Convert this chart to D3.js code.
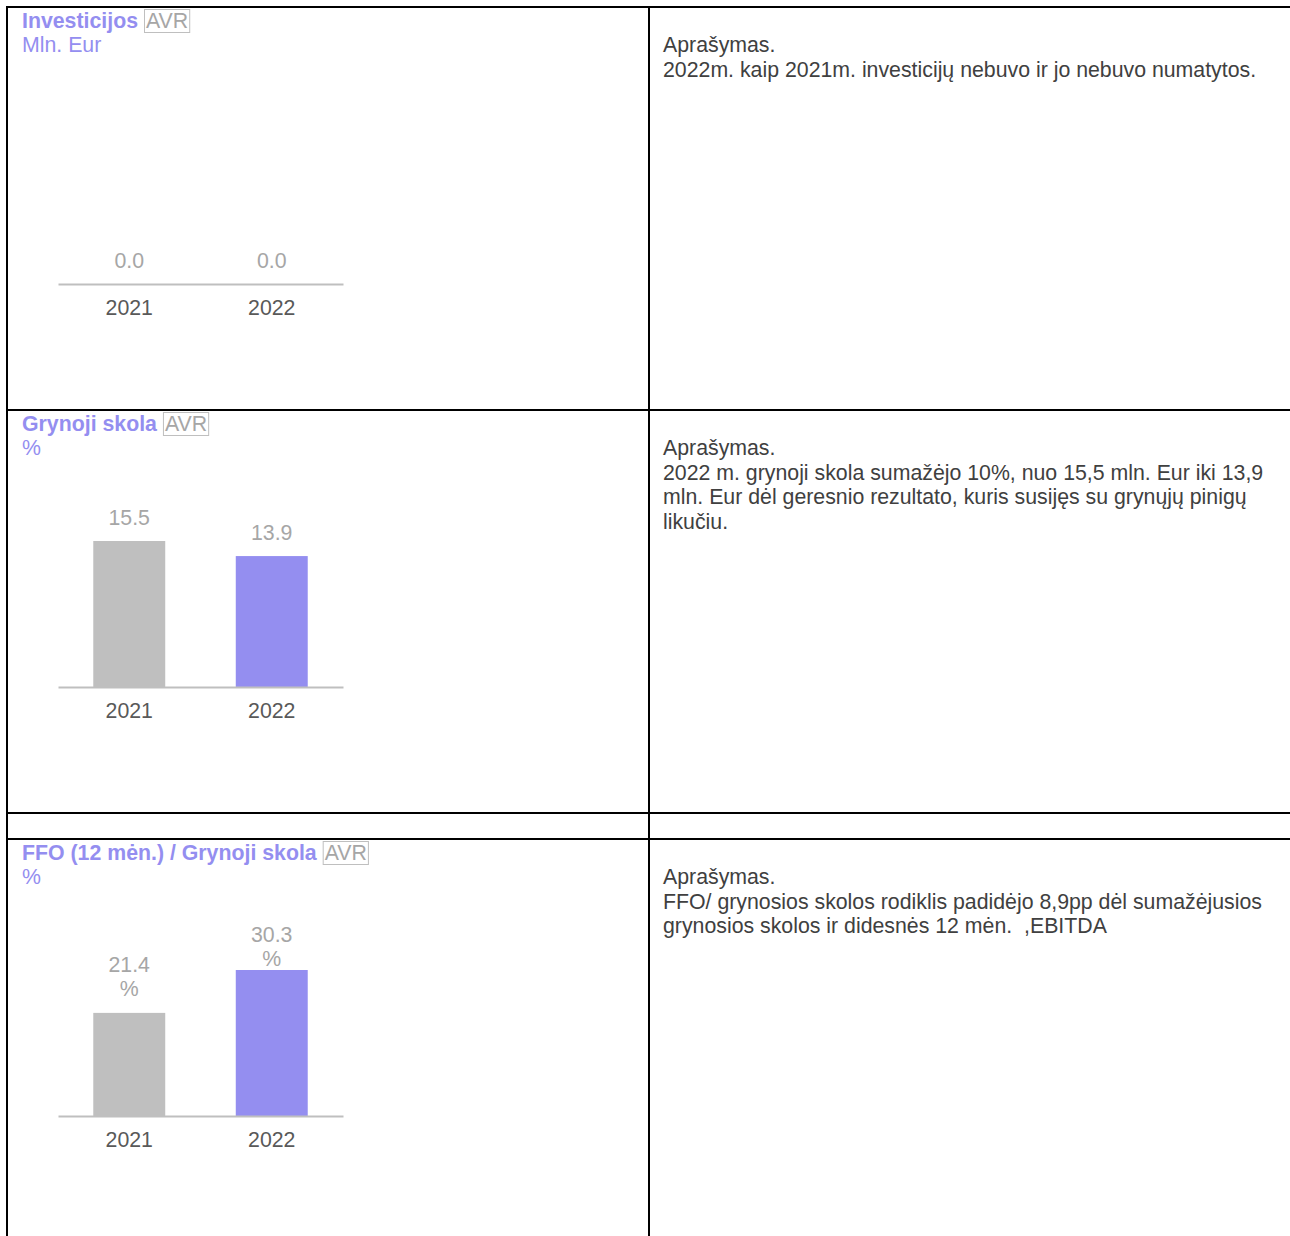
<!DOCTYPE html>
<meta charset="utf-8">
<style>
    html, body { margin: 0; padding: 0; background: #fff; }
    svg text { font-family: "Liberation Sans", Arial, sans-serif; white-space: pre; }
</style>
<script src="https://d3js.org/d3.v7.min.js"></script>

<div id="viz"></div>

<script>
    // data
    const years = ["2021", "2022"];
    const titles = ["Investicijos", "Grynoji skola", "FFO (12 mėn.) / Grynoji skola"];
    const units = ["Mln. Eur", "%", "%"];
    const investValues = [0.0, 0.0];
    const debtValues = [15.5, 13.9];
    const ffoValues = [21.4, 30.3];
    const valueSuffix = ["", "", "%"];
    const descriptions = [
        ["Aprašymas.",
         "2022m. kaip 2021m. investicijų nebuvo ir jo nebuvo numatytos."],
        ["Aprašymas.",
         "2022 m. grynoji skola sumažėjo 10%, nuo 15,5 mln. Eur iki 13,9",
         "mln. Eur dėl geresnio rezultato, kuris susijęs su grynųjų pinigų",
         "likučiu."],
        ["Aprašymas.",
         "FFO/ grynosios skolos rodiklis padidėjo 8,9pp dėl sumažėjusios",
         "grynosios skolos ir didesnės 12 mėn.  ,EBITDA"]
    ];
    const series = [investValues, debtValues, ffoValues];

    const W = 1290, H = 1236;
    const purple = "#948ef0", grey = "#bfbfbf";
    const fs = "21.3px";
    const cellTops = [7, 410, 839];
    const colX = 649;

    const svg = d3.select("#viz").append("svg")
        .attr("width", W).attr("height", H);

    // table lines
    const grid = svg.append("g").attr("stroke", "#000").attr("stroke-width", 2);
    [7, 410, 813, 839].forEach(y => {
        grid.append("line").attr("x1", 6).attr("x2", W).attr("y1", y).attr("y2", y);
    });
    [7, colX].forEach(x => {
        grid.append("line").attr("x1", x).attr("x2", x).attr("y1", 6).attr("y2", H);
    });

    // x scale shared by the three charts
    const x = d3.scaleBand()
        .domain(years)
        .range([58, 343])
        .paddingInner(0.495)
        .paddingOuter(0.2475);

    const barColor = d3.scaleOrdinal().domain(years).range([grey, purple]);

    cellTops.forEach((top, i) => {
        const g = svg.append("g");

        // title + AVR tag
        const title = g.append("text")
            .attr("x", 22).attr("y", top + 21)
            .attr("fill", purple)
            .style("font-size", fs).style("font-weight", "bold")
            .text(titles[i]);
        const tw = title.node().getComputedTextLength();
        const avr = g.append("text")
            .attr("x", 22 + tw + 8).attr("y", top + 21)
            .attr("fill", "#a6a6a6")
            .style("font-size", fs)
            .text("AVR");
        const bb = avr.node().getBBox();
        g.append("rect")
            .attr("x", bb.x - 1.5).attr("y", top + 2.5)
            .attr("width", bb.width + 3).attr("height", 23)
            .attr("fill", "none").attr("stroke", grey).attr("stroke-width", 1);

        g.append("text")
            .attr("x", 22).attr("y", top + 45)
            .attr("fill", purple)
            .style("font-size", fs)
            .text(units[i]);

        // bars
        const base = top + 277;
        const vals = series[i];
        const y = d3.scaleLinear()
            .domain([0, d3.max(vals) || 1])
            .range([base, base - 146]);

        const data = years.map((yr, k) => ({year: yr, value: vals[k]}));

        g.selectAll("rect.bar")
            .data(data)
            .join("rect")
            .attr("class", "bar")
            .attr("x", d => x(d.year))
            .attr("y", d => y(d.value))
            .attr("width", x.bandwidth())
            .attr("height", d => base - y(d.value))
            .attr("fill", d => barColor(d.year));

        // baseline axis
        const axis = g.append("g")
            .attr("transform", `translate(0,${base})`)
            .call(d3.axisBottom(x).tickSize(0).tickPadding(16));
        axis.select(".domain").attr("stroke", grey).attr("stroke-width", 2);
        axis.selectAll("text")
            .attr("fill", "#595959")
            .style("font-size", fs)
            .style("font-family", "'Liberation Sans', Arial, sans-serif");

        // value labels (two-line labels are kept below the title block)
        g.selectAll("text.val")
            .data(data)
            .join("text")
            .attr("class", "val")
            .attr("x", d => x(d.year) + x.bandwidth() / 2)
            .attr("y", d => valueSuffix[i]
                ? Math.max(y(d.value) - 41, top + 103)
                : y(d.value) - 16)
            .attr("text-anchor", "middle")
            .attr("fill", "#a6a6a6")
            .style("font-size", fs)
            .each(function (d) {
                const t = d3.select(this);
                t.append("tspan").text(d.value.toFixed(1));
                if (valueSuffix[i]) {
                    t.append("tspan")
                        .attr("x", x(d.year) + x.bandwidth() / 2)
                        .attr("dy", 24)
                        .text(valueSuffix[i]);
                }
            });

        // description column
        const desc = g.append("text")
            .attr("fill", "#404040")
            .style("font-size", fs);
        descriptions[i].forEach((line, k) => {
            desc.append("tspan")
                .attr("x", 663)
                .attr("y", top + 45 + k * 24.5)
                .text(line);
        });
    });
</script>
